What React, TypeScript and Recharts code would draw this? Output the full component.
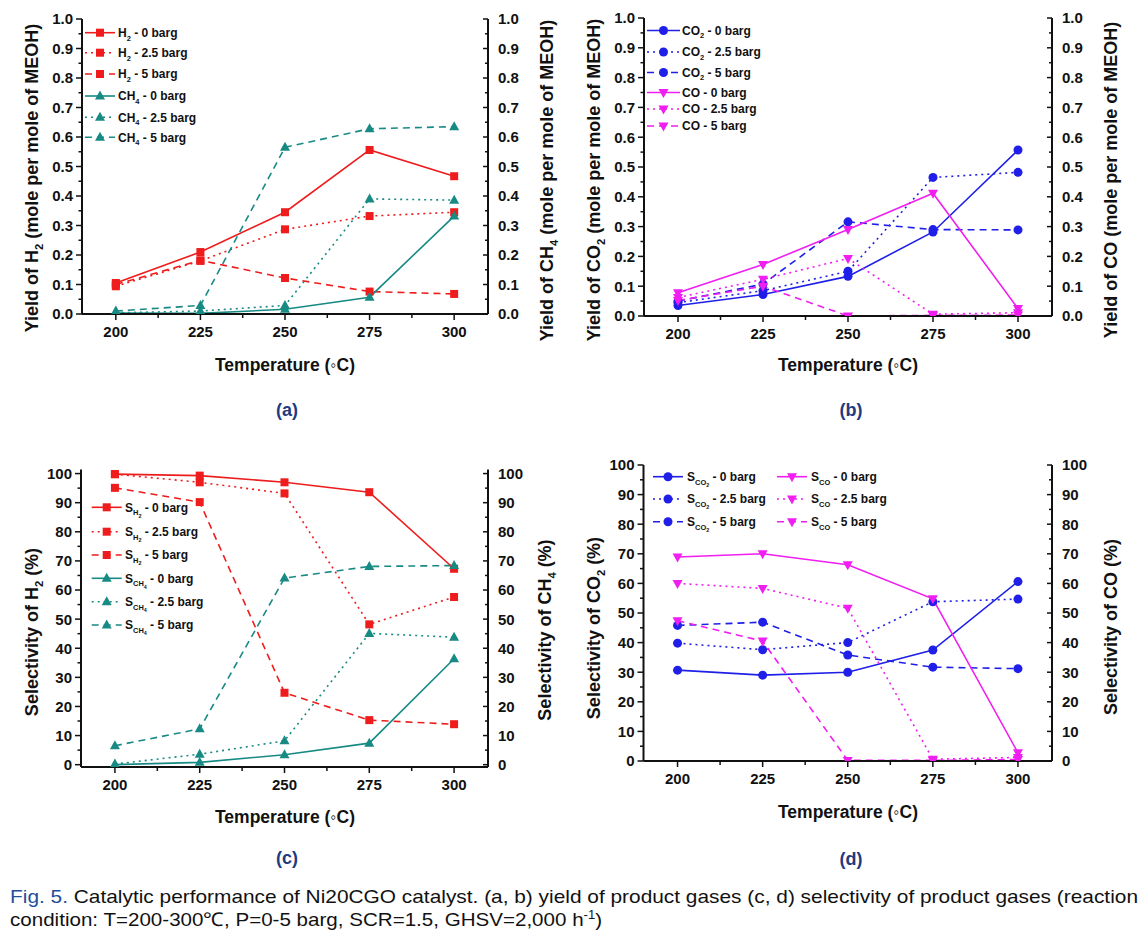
import React from 'react';
import { LineChart, Line, XAxis, YAxis, Legend } from 'recharts';

const temps = [200, 225, 250, 275, 300];

// (a) yield of H2 / CH4 (mole per mole of MeOH)
const h2Yield0 = [0.105, 0.21, 0.345, 0.556, 0.467];
const h2Yield25 = [0.094, 0.18, 0.287, 0.332, 0.345];
const h2Yield5 = [0.1, 0.182, 0.122, 0.076, 0.068];
const ch4Yield0 = [0.003, 0.002, 0.016, 0.057, 0.332];
const ch4Yield25 = [0.004, 0.01, 0.029, 0.39, 0.386];
const ch4Yield5 = [0.01, 0.029, 0.565, 0.628, 0.635];

// (b) yield of CO2 / CO
const co2Yield0 = [0.035, 0.072, 0.133, 0.282, 0.557];
const co2Yield25 = [0.045, 0.085, 0.15, 0.465, 0.482];
const co2Yield5 = [0.05, 0.107, 0.316, 0.29, 0.289];
const coYield0 = [0.078, 0.173, 0.29, 0.412, 0.025];
const coYield25 = [0.062, 0.123, 0.193, 0.006, 0.011];
const coYield5 = [0.052, 0.1, 0.0, 0.002, 0.003];

// (c) selectivity of H2 / CH4 (%)
const sH2_0 = [99.8, 99.3, 97, 93.6, 67.3];
const sH2_25 = [99.8, 97, 93.2, 48.2, 57.6];
const sH2_5 = [95.1, 90.2, 24.7, 15.3, 13.9];
const sCH4_0 = [0, 0.8, 3.4, 7.4, 36.4];
const sCH4_25 = [0.2, 3.6, 8.2, 45.1, 43.8];
const sCH4_5 = [6.5, 12.3, 64.1, 68.1, 68.4];

// (d) selectivity of CO2 / CO (%)
const sCO2_0 = [30.7, 29.0, 30.0, 37.5, 60.6];
const sCO2_25 = [39.8, 37.6, 40.0, 53.8, 54.7];
const sCO2_5 = [45.8, 46.9, 35.8, 31.7, 31.2];
const sCO_0 = [68.9, 70.0, 66.3, 54.8, 2.8];
const sCO_25 = [60.0, 58.3, 51.6, 0.6, 1.2];
const sCO_5 = [47.4, 40.5, 0.2, 0.2, 0.5];

const tempTicks = [200, 212.5, 225, 237.5, 250, 262.5, 275, 287.5, 300];
const tempLabels = [200, 225, 250, 275, 300];
const yieldTicks = [0, 0.05, 0.1, 0.15, 0.2, 0.25, 0.3, 0.35, 0.4, 0.45, 0.5, 0.55, 0.6, 0.65, 0.7, 0.75, 0.8, 0.85, 0.9, 0.95, 1];
const yieldLabels = [0, 0.1, 0.2, 0.3, 0.4, 0.5, 0.6, 0.7, 0.8, 0.9, 1];
const pctTicks = [0, 5, 10, 15, 20, 25, 30, 35, 40, 45, 50, 55, 60, 65, 70, 75, 80, 85, 90, 95, 100];
const pctLabels = [0, 10, 20, 30, 40, 50, 60, 70, 80, 90, 100];

const RED = '#ee1c1c';
const TEAL = '#178a84';
const BLUE = '#1f1fe8';
const MAGENTA = '#f01ef0';
const DOT = '2 4';
const DASH = '7 5';
const FONT = '"Liberation Sans", Arial, sans-serif';
const NARROW = '"Liberation Sans Narrow", "Arial Narrow", "Liberation Sans", sans-serif';
const INK = '#111';
const NAVY = '#1f3a80';

type Part = { t: string; l?: number };
type Shape = 'square' | 'up' | 'circle' | 'down';
type Series = {
  key: string;
  values: number[];
  color: string;
  dash?: string;
  shape: Shape;
  axis: 'left' | 'right';
  label: Part[];
  lx: number;
  ly: number;
};
type Title = { x: number; y: number; parts: Part[] };
type Panel = {
  left: number;
  top: number;
  width: number;
  height: number;
  plot: { l: number; r: number; t: number; b: number };
  domain: [number, number];
  ticks: number[];
  labels: number[];
  fmt: (v: number) => string;
  series: Series[];
  lineLen: number;
  textGap: number;
  yTitle: Title;
  y2Title: Title;
  xTitle: Title;
  tag: Title;
};

const sub = (a: string, b: string, rest: string): Part[] => [{ t: a }, { t: b, l: 1 }, { t: rest }];
const sub2 = (a: string, b: string, c: string, rest: string): Part[] =>
  c ? [{ t: a }, { t: b, l: 1 }, { t: c, l: 2 }, { t: rest }] : [{ t: a }, { t: b, l: 1 }, { t: rest }];

function Rich({ parts, x, y, size, anchor = 'start', rotate, fill = INK, weight = 'bold' }: {
  parts: Part[]; x: number; y: number; size: number; anchor?: 'start' | 'middle' | 'end'; rotate?: number; fill?: string; weight?: string;
}) {
  const sizes = [size, size * 0.62, size * 0.45];
  const offs = [0, size * 0.3, size * 0.5];
  let lvl = 0;
  return (
    <text
      x={x}
      y={y}
      fontSize={size}
      fontFamily={FONT}
      fontWeight={weight}
      fill={fill}
      textAnchor={anchor}
      style={{ whiteSpace: 'pre' }}
      transform={rotate ? `rotate(${rotate} ${x} ${y})` : undefined}
    >
      {parts.map((pt, i) => {
        const nl = pt.l ?? 0;
        const dy = offs[nl] - offs[lvl];
        lvl = nl;
        return (
          <tspan key={i} dy={dy} fontSize={sizes[nl]}>
            {pt.t}
          </tspan>
        );
      })}
    </text>
  );
}

function Marker({ cx, cy, shape, color }: { cx: number; cy: number; shape: Shape; color: string }) {
  if (shape === 'square') return <rect x={cx - 4} y={cy - 4} width={8} height={8} fill={color} />;
  if (shape === 'circle') return <circle cx={cx} cy={cy} r={4.5} fill={color} />;
  if (shape === 'up')
    return <polygon points={`${cx},${cy - 5.5} ${cx - 5},${cy + 3.5} ${cx + 5},${cy + 3.5}`} fill={color} />;
  return <polygon points={`${cx},${cy + 5.5} ${cx - 5},${cy - 3.5} ${cx + 5},${cy - 3.5}`} fill={color} />;
}

function makeTick(side: 'left' | 'right' | 'bottom', labels: number[], fmt: (v: number) => string) {
  return (props: any) => {
    const { x, y, payload } = props;
    const v = payload.value as number;
    const major = labels.some((l) => Math.abs(l - v) < 1e-6);
    const text = major ? fmt(v) : '';
    const common = { fontSize: 15, fontFamily: FONT, fontWeight: 'bold', fill: INK } as const;
    if (side === 'bottom') {
      const len = major ? 6 : 4;
      return (
        <g>
          <line x1={x} x2={x} y1={y} y2={y + len} stroke={INK} strokeWidth={1.5} />
          {text && (
            <text x={x} y={y + 23} textAnchor="middle" {...common}>
              {text}
            </text>
          )}
        </g>
      );
    }
    if (side === 'left') {
      const len = major ? 6 : 3.5;
      return (
        <g>
          <line x1={x} x2={x - len} y1={y} y2={y} stroke={INK} strokeWidth={1.5} />
          {text && (
            <text x={x - 9} y={y + 5.4} textAnchor="end" {...common}>
              {text}
            </text>
          )}
        </g>
      );
    }
    const len = major ? 5 : 3;
    return (
      <g>
        <line x1={x} x2={x - len} y1={y} y2={y} stroke={INK} strokeWidth={1.5} />
        {text && (
          <text x={x + 10} y={y + 5.4} textAnchor="start" {...common}>
            {text}
          </text>
        )}
      </g>
    );
  };
}

function makeDot(shape: Shape, color: string, key: string) {
  return (props: any) => {
    const { cx, cy, index } = props;
    if (cx == null || cy == null) return <g key={`${key}-${index}`} />;
    return <Marker key={`${key}-${index}`} cx={cx} cy={cy} shape={shape} color={color} />;
  };
}

const yieldFmt = (v: number) => v.toFixed(1);
const pctFmt = (v: number) => String(Math.round(v));

const panels: Panel[] = [
  {
    left: 0, top: 0, width: 570, height: 440,
    plot: { l: 82, r: 488, t: 19, b: 314 },
    domain: [0, 1], ticks: yieldTicks, labels: yieldLabels, fmt: yieldFmt,
    lineLen: 30, textGap: 33,
    series: [
      { key: 'h2_0', values: h2Yield0, color: RED, shape: 'square', axis: 'left', label: sub('H', '2', ' - 0 barg'), lx: 85, ly: 32.7 },
      { key: 'h2_25', values: h2Yield25, color: RED, dash: DOT, shape: 'square', axis: 'left', label: sub('H', '2', ' - 2.5 barg'), lx: 85, ly: 52.7 },
      { key: 'h2_5', values: h2Yield5, color: RED, dash: DASH, shape: 'square', axis: 'left', label: sub('H', '2', ' - 5 barg'), lx: 85, ly: 74 },
      { key: 'ch4_0', values: ch4Yield0, color: TEAL, shape: 'up', axis: 'right', label: sub('CH', '4', ' - 0 barg'), lx: 85, ly: 96 },
      { key: 'ch4_25', values: ch4Yield25, color: TEAL, dash: DOT, shape: 'up', axis: 'right', label: sub('CH', '4', ' - 2.5 barg'), lx: 85, ly: 117.3 },
      { key: 'ch4_5', values: ch4Yield5, color: TEAL, dash: DASH, shape: 'up', axis: 'right', label: sub('CH', '4', ' - 5 barg'), lx: 85, ly: 137.3 },
    ],
    yTitle: { x: 31, y: 178, parts: sub('Yield of H', '2', ' (mole per mole of MEOH)') },
    y2Title: { x: 546, y: 180.5, parts: sub('Yield of CH', '4', ' (mole per mole of MEOH)') },
    xTitle: { x: 285, y: 364, parts: [{ t: 'Temperature (◦C)' }] },
    tag: { x: 287, y: 409, parts: [{ t: '(a)' }] },
  },
  {
    left: 570, top: 0, width: 576, height: 440,
    plot: { l: 74, r: 482, t: 18, b: 316 },
    domain: [0, 1], ticks: yieldTicks, labels: yieldLabels, fmt: yieldFmt,
    lineLen: 33, textGap: 35,
    series: [
      { key: 'co2_0', values: co2Yield0, color: BLUE, shape: 'circle', axis: 'left', label: sub('CO', '2', ' - 0 barg'), lx: 77, ly: 30.5 },
      { key: 'co2_25', values: co2Yield25, color: BLUE, dash: DOT, shape: 'circle', axis: 'left', label: sub('CO', '2', ' - 2.5 barg'), lx: 77, ly: 52 },
      { key: 'co2_5', values: co2Yield5, color: BLUE, dash: DASH, shape: 'circle', axis: 'left', label: sub('CO', '2', ' - 5 barg'), lx: 77, ly: 72.5 },
      { key: 'co_0', values: coYield0, color: MAGENTA, shape: 'down', axis: 'right', label: [{ t: 'CO - 0 barg' }], lx: 77, ly: 92.5 },
      { key: 'co_25', values: coYield25, color: MAGENTA, dash: DOT, shape: 'down', axis: 'right', label: [{ t: 'CO - 2.5 barg' }], lx: 77, ly: 109 },
      { key: 'co_5', values: coYield5, color: MAGENTA, dash: DASH, shape: 'down', axis: 'right', label: [{ t: 'CO - 5 barg' }], lx: 77, ly: 126 },
    ],
    yTitle: { x: 593, y: 180, parts: sub('Yield of CO', '2', ' (mole per mole of MEOH)') },
    y2Title: { x: 1110, y: 180, parts: [{ t: 'Yield of CO (mole per mole of MEOH)' }] },
    xTitle: { x: 848, y: 364, parts: [{ t: 'Temperature (◦C)' }] },
    tag: { x: 851, y: 409, parts: [{ t: '(b)' }] },
  },
  {
    left: 0, top: 440, width: 570, height: 440,
    plot: { l: 81, r: 488, t: 29.5, b: 327 },
    domain: [-0.8, 101.4], ticks: pctTicks, labels: pctLabels, fmt: pctFmt,
    lineLen: 30, textGap: 33.3,
    series: [
      { key: 'sh2_0', values: sH2_0, color: RED, shape: 'square', axis: 'left', label: sub2('S', 'H', '2', ' - 0 barg'), lx: 91.7, ly: 67.3 },
      { key: 'sh2_25', values: sH2_25, color: RED, dash: DOT, shape: 'square', axis: 'left', label: sub2('S', 'H', '2', ' - 2.5 barg'), lx: 91.7, ly: 91.7 },
      { key: 'sh2_5', values: sH2_5, color: RED, dash: DASH, shape: 'square', axis: 'left', label: sub2('S', 'H', '2', ' - 5 barg'), lx: 91.7, ly: 115 },
      { key: 'sch4_0', values: sCH4_0, color: TEAL, shape: 'up', axis: 'right', label: sub2('S', 'CH', '4', ' - 0 barg'), lx: 91.7, ly: 138.3 },
      { key: 'sch4_25', values: sCH4_25, color: TEAL, dash: DOT, shape: 'up', axis: 'right', label: sub2('S', 'CH', '4', ' - 2.5 barg'), lx: 91.7, ly: 161.7 },
      { key: 'sch4_5', values: sCH4_5, color: TEAL, dash: DASH, shape: 'up', axis: 'right', label: sub2('S', 'CH', '4', ' - 5 barg'), lx: 91.7, ly: 185 },
    ],
    yTitle: { x: 31, y: 632, parts: sub('Selectivity of H', '2', ' (%)') },
    y2Title: { x: 544, y: 630, parts: sub('Selectivity of CH', '4', ' (%)') },
    xTitle: { x: 285, y: 816, parts: [{ t: 'Temperature (◦C)' }] },
    tag: { x: 287, y: 857, parts: [{ t: '(c)' }] },
  },
  {
    left: 570, top: 440, width: 576, height: 440,
    plot: { l: 73.5, r: 482, t: 25, b: 321 },
    domain: [0, 100], ticks: pctTicks, labels: pctLabels, fmt: pctFmt,
    lineLen: 30, textGap: 34,
    series: [
      { key: 'sco2_0', values: sCO2_0, color: BLUE, shape: 'circle', axis: 'left', label: sub2('S', 'CO', '2', ' - 0 barg'), lx: 83, ly: 36.7 },
      { key: 'sco2_25', values: sCO2_25, color: BLUE, dash: DOT, shape: 'circle', axis: 'left', label: sub2('S', 'CO', '2', ' - 2.5 barg'), lx: 83, ly: 59 },
      { key: 'sco2_5', values: sCO2_5, color: BLUE, dash: DASH, shape: 'circle', axis: 'left', label: sub2('S', 'CO', '2', ' - 5 barg'), lx: 83, ly: 81.7 },
      { key: 'sco_0', values: sCO_0, color: MAGENTA, shape: 'down', axis: 'right', label: sub2('S', 'CO', '', ' - 0 barg'), lx: 207, ly: 36.7 },
      { key: 'sco_25', values: sCO_25, color: MAGENTA, dash: DOT, shape: 'down', axis: 'right', label: sub2('S', 'CO', '', ' - 2.5 barg'), lx: 207, ly: 59 },
      { key: 'sco_5', values: sCO_5, color: MAGENTA, dash: DASH, shape: 'down', axis: 'right', label: sub2('S', 'CO', '', ' - 5 barg'), lx: 207, ly: 81.7 },
    ],
    yTitle: { x: 593, y: 628, parts: sub('Selectivity of CO', '2', ' (%)') },
    y2Title: { x: 1110, y: 627, parts: [{ t: 'Selectivity of CO (%)' }] },
    xTitle: { x: 848, y: 811, parts: [{ t: 'Temperature (◦C)' }] },
    tag: { x: 851, y: 858, parts: [{ t: '(d)' }] },
  },
];

function LegendArt({ p }: { p: Panel }) {
  return (
    <svg width={p.width} height={p.height} style={{ position: 'absolute', left: 0, top: 0 }}>
      {p.series.map((s) => (
        <g key={s.key}>
          <line x1={s.lx} x2={s.lx + p.lineLen} y1={s.ly} y2={s.ly} stroke={s.color} strokeWidth={1.6} strokeDasharray={s.dash} />
          <Marker cx={s.lx + p.lineLen / 2} cy={s.ly} shape={s.shape} color={s.color} />
          <Rich parts={s.label} x={s.lx + p.textGap} y={s.ly + 4.3} size={12} />
        </g>
      ))}
    </svg>
  );
}

const axisLine = { stroke: INK, strokeWidth: 2 };

function PanelChart({ p }: { p: Panel }) {
  const data = temps.map((t, i) => {
    const row: Record<string, number> = { t };
    p.series.forEach((s) => {
      row[s.key] = s.values[i];
    });
    return row;
  });
  return (
    <div style={{ position: 'absolute', left: p.left, top: p.top }}>
      <LineChart width={p.width} height={p.height} data={data} margin={{ top: p.plot.t, right: 0, bottom: 0, left: 0 }}>
        <XAxis
          dataKey="t"
          type="number"
          domain={[190, 310]}
          ticks={tempTicks}
          interval={0}
          height={p.height - p.plot.b}
          tickSize={0}
          tickMargin={0}
          tickLine={false}
          tick={makeTick('bottom', tempLabels, (v) => String(v))}
          axisLine={axisLine}
        />
        <XAxis xAxisId="top" orientation="top" dataKey="t" type="number" domain={[190, 310]} height={0} tick={false} tickLine={false} axisLine={axisLine} />
        <YAxis
          yAxisId="left"
          orientation="left"
          type="number"
          domain={p.domain}
          ticks={p.ticks}
          interval={0}
          width={p.plot.l}
          tickSize={0}
          tickMargin={0}
          tickLine={false}
          tick={makeTick('left', p.labels, p.fmt)}
          axisLine={axisLine}
          allowDataOverflow
        />
        <YAxis
          yAxisId="right"
          orientation="right"
          type="number"
          domain={p.domain}
          ticks={p.ticks}
          interval={0}
          width={p.width - p.plot.r}
          tickSize={0}
          tickMargin={0}
          tickLine={false}
          tick={makeTick('right', p.labels, p.fmt)}
          axisLine={axisLine}
          allowDataOverflow
        />
        <Legend
          layout="horizontal"
          verticalAlign="middle"
          align="center"
          wrapperStyle={{ left: 0, top: 0, width: p.width, height: p.height, pointerEvents: 'none' }}
          content={() => <LegendArt p={p} />}
        />
        {p.series.map((s) => (
          <Line
            key={s.key}
            type="linear"
            dataKey={s.key}
            yAxisId={s.axis}
            stroke={s.color}
            strokeWidth={1.6}
            strokeDasharray={s.dash}
            dot={makeDot(s.shape, s.color, s.key)}
            activeDot={false}
            isAnimationActive={false}
          />
        ))}
      </LineChart>
    </div>
  );
}

function Titles() {
  return (
    <svg width={1146} height={937} style={{ position: 'absolute', left: 0, top: 0, pointerEvents: 'none' }}>
      {panels.map((p, i) => (
        <g key={i}>
          <Rich parts={p.yTitle.parts} x={p.yTitle.x + 6.5} y={p.yTitle.y} size={18} anchor="middle" rotate={-90} />
          <Rich parts={p.y2Title.parts} x={p.y2Title.x + 6.5} y={p.y2Title.y} size={18} anchor="middle" rotate={-90} />
          <Rich parts={p.xTitle.parts} x={p.xTitle.x} y={p.xTitle.y + 6.5} size={17.5} anchor="middle" />
          <Rich parts={p.tag.parts} x={p.tag.x} y={p.tag.y + 6.5} size={18} anchor="middle" fill={NAVY} />
        </g>
      ))}
      <text x={10} y={903} fontSize={19} fontFamily={NARROW} fill={INK} textLength={1128} lengthAdjust="spacingAndGlyphs" style={{ whiteSpace: 'pre' }}>
        <tspan fill="#1f4e9a">Fig. 5.</tspan>
        <tspan> Catalytic performance of Ni20CGO catalyst. (a, b) yield of product gases (c, d) selectivity of product gases (reaction</tspan>
      </text>
      <text x={10} y={926} fontSize={19} fontFamily={NARROW} fill={INK} textLength={592} lengthAdjust="spacingAndGlyphs" style={{ whiteSpace: 'pre' }}>
        <tspan>condition: T=200-300℃, P=0-5 barg, SCR=1.5, GHSV=2,000 h</tspan>
        <tspan dy={-7} fontSize={12}>-1</tspan>
        <tspan dy={7}>)</tspan>
      </text>
    </svg>
  );
}

export default function App() {
  return (
    <div style={{ position: 'absolute', left: 0, top: 0, width: 1146, height: 937, background: '#fff', overflow: 'hidden' }}>
      {panels.map((p, i) => (
        <PanelChart key={i} p={p} />
      ))}
      <Titles />
    </div>
  );
}
